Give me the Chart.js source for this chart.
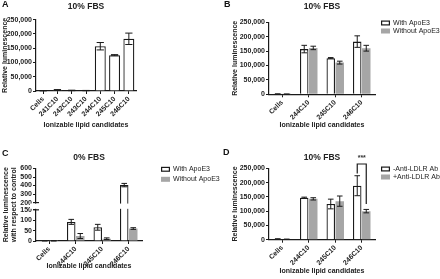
<!DOCTYPE html>
<html>
<head>
<meta charset="utf-8">
<script src="https://cdn.jsdelivr.net/npm/chart.js@4.4.0/dist/chart.umd.min.js"></script>
<style>
body { margin: 0; background: #fff; width: 440px; height: 279px; overflow: hidden; position: relative; font-family: "Liberation Sans", Arial, sans-serif; }
canvas { position: absolute; }
.tag { position: absolute; font-weight: bold; font-size: 9px; line-height: 9px; color: #111; }
</style>
</head>
<body>
<canvas id="panelA" width="220" height="140" style="left:0;top:0"></canvas>
<canvas id="panelB" width="220" height="140" style="left:220px;top:0"></canvas>
<canvas id="panelC" width="220" height="139" style="left:0;top:140px"></canvas>
<canvas id="panelD" width="220" height="139" style="left:220px;top:140px"></canvas>
<div class="tag" style="left:2px;top:0px">A</div>
<div class="tag" style="left:224px;top:0px">B</div>
<div class="tag" style="left:2px;top:149px">C</div>
<div class="tag" style="left:223px;top:148px">D</div>
<script>
// ---- data ----
const lipidsA = ['Cells', '241C10', '242C10', '243C10', '244C10', '245C10', '246C10'];
const lumA = [1000, 3500, 2000, 1500, 157000, 125500, 183000];
const lumErrA = [300, 1500, 800, 500, 13000, 2000, 20000];

const lipids = ['Cells', '244C10', '245C10', '246C10'];
const withApoE3B = [1000, 157000, 125500, 183000];
const withApoE3ErrB = [300, 13000, 2000, 20000];
const withoutApoE3B = [500, 161000, 110000, 160000];
const withoutApoE3ErrB = [200, 6000, 5000, 10000];

const withApoE3C = [1, 92, 66, 405];
const withApoE3ErrC = [0.5, 12, 14, 20];
const withoutApoE3C = [1, 24, 11, 60];
const withoutApoE3ErrC = [0.5, 12, 4, 4];

const minusAbD = [2500, 147000, 125000, 189000];
const minusAbErrD = [500, 2000, 17000, 35000];
const plusAbD = [1500, 143000, 135000, 100000];
const plusAbErrD = [500, 4000, 18000, 6000];
const sigD = { index: 3, level: 265000, ends: [232000, 125000], text: '***' };

const lumTicks = [0, 50000, 100000, 150000, 200000, 250000];
const relTicks = [0, 50, 100, 150, 200, 300, 400, 500, 600];
const relBreak = { low: 150, high: 200 };

const WHITE = '#ffffff', GREY = '#a6a6a6', INK = '#1a1a1a';
Chart.defaults.font.family = '"Liberation Sans", Arial, sans-serif';
Chart.defaults.color = '#222';

// y axis with a gap between 150 and 200 (panel C)
class BrokenScale extends Chart.LinearScale {
    static id = 'broken';
    getPixelForValue(v) {
        const b = this.options.brk;
        const h = this.bottom - this.top;
        const lowH = h * b.lowFrac, gap = h * b.gapFrac;
        if (v <= b.low) return this.bottom - v / b.low * lowH;
        if (v < b.high) return this.bottom - lowH - (v - b.low) / (b.high - b.low) * gap;
        return this.bottom - lowH - gap - (v - b.high) / (this.max - b.high) * (h - lowH - gap);
    }
}
Chart.register(BrokenScale);

// error bars, axis break, significance bracket
const extras = {
    id: 'extras',
    afterDatasetsDraw(chart, args, opts) {
        const ctx = chart.ctx, y = chart.scales.y, area = chart.chartArea;
        ctx.save();
        if (opts.brk) {
            const p1 = y.getPixelForValue(opts.brk.low), p2 = y.getPixelForValue(opts.brk.high);
            ctx.fillStyle = '#fff';
            ctx.fillRect(area.left - 6, p2 + 1, area.right - area.left + 6, p1 - p2 - 2);
            ctx.strokeStyle = INK; ctx.lineWidth = 1.2;
            [p1, p2].forEach(p => {
                ctx.beginPath(); ctx.moveTo(area.left - 3, p); ctx.lineTo(area.left + 3, p); ctx.stroke();
            });
        }
        ctx.strokeStyle = INK; ctx.lineWidth = 1;
        chart.data.datasets.forEach((ds, i) => {
            chart.getDatasetMeta(i).data.forEach((bar, j) => {
                const v = ds.data[j], e = ds.errors[j];
                const top = y.getPixelForValue(v + e), bot = y.getPixelForValue(Math.max(v - e, 0));
                const c = bar.width * 0.33;
                ctx.beginPath();
                ctx.moveTo(bar.x, top); ctx.lineTo(bar.x, bot);
                ctx.moveTo(bar.x - c, top); ctx.lineTo(bar.x + c, top);
                ctx.moveTo(bar.x - c, bot); ctx.lineTo(bar.x + c, bot);
                ctx.stroke();
            });
        });
        if (opts.sig) {
            const s = opts.sig;
            const xl = chart.getDatasetMeta(0).data[s.index].x, xr = chart.getDatasetMeta(1).data[s.index].x;
            const yt = y.getPixelForValue(s.level);
            ctx.lineWidth = 1.2;
            ctx.beginPath();
            ctx.moveTo(xl, y.getPixelForValue(s.ends[0])); ctx.lineTo(xl, yt);
            ctx.lineTo(xr, yt); ctx.lineTo(xr, y.getPixelForValue(s.ends[1]));
            ctx.stroke();
            ctx.fillStyle = '#333'; ctx.font = 'bold 7px "Liberation Sans", Arial';
            ctx.textAlign = 'center'; ctx.textBaseline = 'bottom';
            ctx.fillText(s.text, (xl + xr) / 2, yt - 2);
        }
        ctx.restore();
    }
};

// small legend placed right of the plot area
const boxLegend = {
    id: 'boxLegend',
    afterDraw(chart, args, opts) {
        const ctx = chart.ctx, area = chart.chartArea;
        ctx.save();
        chart.data.datasets.forEach((ds, i) => {
            const bx = area.right + opts.dx, cy = area.top + opts.dy + i * opts.gap;
            ctx.fillStyle = ds.backgroundColor;
            ctx.fillRect(bx, cy - 2.5, 9, 5);
            if (ds.borderWidth) {
                ctx.strokeStyle = ds.borderColor; ctx.lineWidth = 1.2;
                ctx.strokeRect(bx + 0.6, cy - 1.9, 7.8, 3.8);
            }
            ctx.fillStyle = '#222'; ctx.font = '7px "Liberation Sans", Arial';
            ctx.textBaseline = 'middle'; ctx.textAlign = 'left';
            ctx.fillText(ds.label, bx + 12, cy);
        });
        ctx.restore();
    }
};

function bars(label, data, errors, grey, catPct, barPct) {
    return {
        label: label, data: data, errors: errors,
        backgroundColor: grey ? GREY : WHITE,
        borderColor: INK, borderWidth: grey ? 0 : 1.3,
        categoryPercentage: catPct, barPercentage: barPct
    };
}

function panel(id, p) {
    const yAxis = {
        type: p.yType || 'linear', min: 0, max: p.yTicks[p.yTicks.length - 1],
        brk: p.brk,
        afterBuildTicks: s => { s.ticks = p.yTicks.map(v => ({ value: v })); },
        afterFit: s => { s.width = p.yW; },
        grid: { drawOnChartArea: false, tickLength: 3, color: INK, lineWidth: 1 },
        border: { color: INK, width: 1.2 },
        ticks: { autoSkip: false, padding: 1, font: { size: 7, weight: 'bold' }, callback: v => v.toLocaleString('en-US') },
        title: { display: true, text: p.yTitle, padding: 0, font: { size: 7, weight: 'bold' } }
    };
    return new Chart(document.getElementById(id), {
        type: 'bar',
        data: { labels: p.labels, datasets: p.datasets },
        options: {
            responsive: false, animation: false,
            layout: { padding: p.pad },
            plugins: {
                legend: { display: false }, tooltip: { enabled: false },
                title: { display: true, text: p.title, fullSize: false, color: '#222', font: { size: 8.5, weight: 'bold' }, padding: p.titlePad },
                boxLegend: p.legend || false,
                extras: { brk: p.brkMarks, sig: p.sig }
            },
            scales: {
                x: {
                    afterFit: s => { s.height = p.xH; },
                    grid: { offset: false, drawOnChartArea: false, tickLength: 3, color: INK, lineWidth: 1 },
                    border: { color: INK, width: 1.2 },
                    ticks: { autoSkip: false, minRotation: 45, maxRotation: 45, padding: 1, font: { size: 7, weight: 'bold' } },
                    title: { display: true, text: 'Ionizable lipid candidates', padding: 0, font: { size: 7, weight: 'bold' } }
                },
                y: yAxis
            }
        },
        plugins: [boxLegend, extras]
    });
}

panel('panelA', {
    labels: lipidsA, title: '10% FBS', yTitle: 'Relative luminescence', yTicks: lumTicks,
    datasets: [bars('Luminescence', lumA, lumErrA, false, 0.8, 0.96)],
    pad: { left: 1, right: 84, top: 0, bottom: 10.8 }, titlePad: { top: 1.4, bottom: 8.1 }, yW: 35, xH: 38.2
});

panel('panelB', {
    labels: lipids, title: '10% FBS', yTitle: 'Relative luminescence', yTicks: lumTicks,
    datasets: [
        bars('With ApoE3', withApoE3B, withApoE3ErrB, false, 0.68, 0.94),
        bars('Without ApoE3', withoutApoE3B, withoutApoE3ErrB, true, 0.68, 0.94)
    ],
    pad: { left: 10.8, right: 65, top: 0, bottom: 10.8 }, titlePad: { top: 1.4, bottom: 10.7 }, yW: 38.2, xH: 34.9,
    legend: { dx: 6, dy: 0.7, gap: 8 }
});

panel('panelC', {
    labels: lipids, title: '0% FBS', yTitle: ['Relative luminescence', 'with respect to control'], yTicks: relTicks,
    yType: 'broken', brk: { low: relBreak.low, high: relBreak.high, lowFrac: 0.43, gapFrac: 0.1 }, brkMarks: relBreak,
    datasets: [
        bars('With ApoE3', withApoE3C, withApoE3ErrC, false, 0.68, 0.94),
        bars('Without ApoE3', withoutApoE3C, withoutApoE3ErrC, true, 0.68, 0.94)
    ],
    pad: { left: 1.8, right: 78, top: 0, bottom: 8.8 }, titlePad: { top: 12.2, bottom: 6.1 }, yW: 34.2, xH: 29.2,
    legend: { dx: 19, dy: 0.8, gap: 10 }
});

panel('panelD', {
    labels: lipids, title: '10% FBS', yTitle: 'Relative luminescence', yTicks: lumTicks,
    datasets: [
        bars('-Anti-LDLR Ab', minusAbD, minusAbErrD, false, 0.68, 0.94),
        bars('+Anti-LDLR Ab', plusAbD, plusAbErrD, true, 0.68, 0.94)
    ],
    sig: sigD,
    pad: { left: 10.8, right: 65, top: 0, bottom: 3.8 }, titlePad: { top: 12.2, bottom: 5.9 }, yW: 38.2, xH: 35.5,
    legend: { dx: 6, dy: 0.7, gap: 8 }
});
</script>
</body>
</html>
